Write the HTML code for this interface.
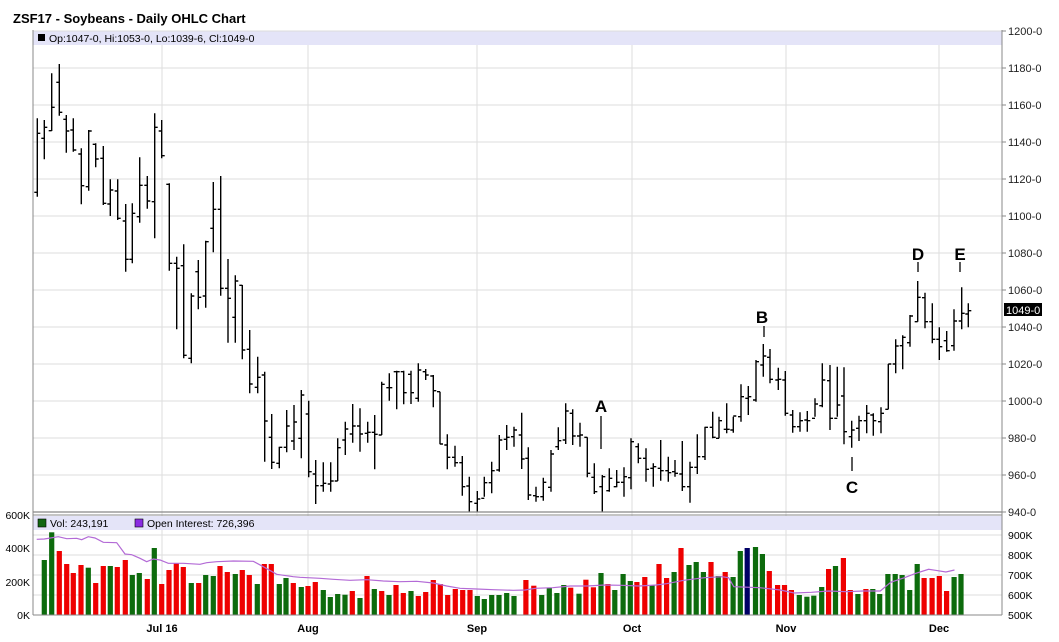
<!DOCTYPE html>
<html><head><meta charset="utf-8"><style>
body{margin:0;background:#fff;width:1059px;height:637px;overflow:hidden;font-family:"Liberation Sans",sans-serif}
svg text{font-family:"Liberation Sans",sans-serif}
</style></head><body>
<svg id="s" width="1059" height="637" xmlns="http://www.w3.org/2000/svg">
<rect width="1059" height="637" fill="#fff"/>
<text x="13" y="23" font-size="13" font-weight="bold" fill="#000">ZSF17 - Soybeans - Daily OHLC Chart</text>
<rect x="33" y="31" width="969" height="14" fill="#e4e4f8"/>
<rect x="38" y="34" width="7" height="7" fill="#000"/>
<text x="49" y="42" font-size="10.5" fill="#000">Op:1047-0, Hi:1053-0, Lo:1039-6, Cl:1049-0</text>
<g id="grid"></g>
<g id="bars"></g>
<g id="vol"></g>
<rect x="33" y="516" width="969" height="14" fill="#e4e4f8"/>
<rect x="38" y="519" width="8" height="8" fill="#116611" stroke="#000" stroke-width="0.6"/>
<text x="50" y="527" font-size="10.5">Vol: 243,191</text>
<rect x="135" y="519" width="8" height="8" fill="#8a2be2" stroke="#000" stroke-width="0.6"/>
<text x="147" y="527" font-size="10.5">Open Interest: 726,396</text>
<line x1="33" y1="30" x2="33" y2="615" stroke="#888" stroke-width="1"/>
<line x1="1002" y1="30" x2="1002" y2="615" stroke="#888" stroke-width="1"/>
<line x1="33" y1="512" x2="1002" y2="512" stroke="#888" stroke-width="1.2"/>
<line x1="33" y1="515" x2="1002" y2="515" stroke="#888" stroke-width="1"/>
<line x1="33" y1="615" x2="1002" y2="615" stroke="#888" stroke-width="1"/>
<g font-size="17" font-weight="bold" text-anchor="middle" fill="#000">
<text x="601" y="412">A</text><text x="762" y="323">B</text><text x="852" y="493">C</text><text x="918" y="260">D</text><text x="960" y="260">E</text>
</g>
<g stroke="#000" stroke-width="1.3">
<line x1="601" y1="416" x2="601" y2="449"/><line x1="764" y1="326" x2="764" y2="337"/><line x1="852" y1="457" x2="852" y2="471"/><line x1="918" y1="262" x2="918" y2="272"/><line x1="960" y1="262" x2="960" y2="272"/>
</g>
<rect x="1004" y="303" width="38" height="13" fill="#000"/>
<text x="1006" y="314" font-size="11" fill="#fff">1049-0</text>
</svg>
<script>
var NS="http://www.w3.org/2000/svg";
function el(p,t,a,txt){var e=document.createElementNS(NS,t);for(var k in a)e.setAttribute(k,a[k]);if(txt!==undefined)e.textContent=txt;document.getElementById(p).appendChild(e);return e;}
for(var k=0;k<=13;k++){var y=31+37*k;if(k<13)el("grid","line",{x1:33,x2:1002,y1:y,y2:y,stroke:"#ddd","stroke-width":1});
el("grid","line",{x1:1002,x2:1006,y1:y,y2:y,stroke:"#888"});
el("grid","text",{x:1008,y:y+4,"font-size":11,fill:"#222"},(1200-20*k)+"-0");}
var vx=[162,308,477,632,786,939],vl=["Jul 16","Aug","Sep","Oct","Nov","Dec"];
vx.forEach(function(x,i){el("grid","line",{x1:x,x2:x,y1:45,y2:615,stroke:"#ddd"});el("grid","text",{x:x,y:632,"font-size":11,"font-weight":"bold","text-anchor":"middle"},vl[i]);});
[535,555,575,595].forEach(function(y){el("grid","line",{x1:33,x2:1002,y1:y,y2:y,stroke:"#ddd"});});
[["600K",515],["400K",548],["200K",582],["0K",615]].forEach(function(a){el("grid","text",{x:30,y:a[1]+4,"font-size":10.5,"text-anchor":"end"},a[0]);});
[["900K",535],["800K",555],["700K",575],["600K",595],["500K",615]].forEach(function(a){el("grid","text",{x:1008,y:a[1]+4,"font-size":10.5},a[0]);});
var z1=[[22,205,440,427,250],[43,210,328,265,232],[65,70,243,242,172],[88,42,197,97,187],[109,195,308,208,243],[130,205,305,240,300],[154,295,463,312,407],[176,240,422,410,243],[197,280,352,283,327],[220,288,465,325,460],[241,388,498,462,420],[263,388,510,423,505],[287,462,665,513,628],[307,460,640,628,490],[329,322,518,500,406],[352,378,476,406,453],[374,190,565,455,232],[395,210,325,243,317],[418,400,662,403,640],[440,620,838,640,655],[461,583,925,647,916],[484,730,940,925,738],[505,630,778,665,742],[527,572,773,738,575],[550,396,607,535,478],[572,378,737,478,715],[594,627,878,715,745],[616,676,878,802,693],[637,705,928,706,900],[659,840,1030,898,1002],[683,920,1030,1012,982],[704,965,1235,975,1113],[725,1092,1257,1162,1237],[748,1190,1255,1240,1192],[770,1080,1207,1192,1128],[792,1065,1200,1173,1116],[814,1020,1225,1165,1035],[836,1052,1282,1092,1265],[857,1230,1362,1272,1307],[880,1237,1325,1307,1300],[902,1237,1325,1302,1293],[923,1165,1293,1293,1193],[946,1115,1215,1170,1137],[968,1062,1178,1152,1128],[990,1075,1205,1128,1152],[1013,1115,1178,1150,1147],[1034,1095,1258,1147,1153]];
var z2=[[35,95,255,255,103],[58,70,152,113,113],[80,62,178,65,65],[101,62,163,65,128],[123,62,162,73,128],[145,40,155,145,60],[167,57,90,65,75],[190,75,172,78,122],[210,125,283,125,282],[232,253,358,285,322],[255,287,350,322,338],[277,318,437,338,410],[298,380,485,408,455],[322,423,485,460,447],[343,380,440,445,398],[365,335,430,398,362],[388,255,365,360,270],[410,225,300,268,262],[432,230,290,260,240],[455,188,357,255,327],[475,292,450,325,435],[498,410,455,437,440],[520,383,452,440,397],[543,300,425,412,312],[565,232,300,290,272],[587,160,282,270,183],[608,178,285,190,258],[630,218,290,258,255],[652,262,382,262,370],[673,340,432,382,425],[697,375,485,410,380],[718,355,425,422,385],[740,360,412,410,397],[762,352,440,397,380],[783,265,418,383,275],[805,280,340,290,325],[828,295,395,325,358],[850,340,410,355,350],[872,270,392,355,362],[895,320,395,362,368],[915,330,380,365,370],[937,273,423,372,410],[960,335,458,410,352],[982,253,372,352,320],[1005,230,330,320,232],[1028,185,265,232,262]];
var z3=[[57,500,565,565,512],[80,460,550,538,538],[100,500,548,540,498],[123,403,515,500,440],[145,408,495,445,440],[168,330,455,450,335],[190,282,380,345,318],[210,297,400,322,388],[235,353,420,390,388],[256,363,497,390,490],[278,480,548,495,530],[300,487,545,530,512],[322,483,545,510,512],[345,445,500,505,462],[367,340,472,467,390],[390,345,540,392,505],[412,350,500,505,465],[432,352,583,438,545],[455,512,593,560,540],[477,497,573,535,512],[500,465,550,512,490],[520,490,557,495,512],[543,472,550,515,490],[565,342,478,478,342],[587,268,370,342,288],[608,256,358,287,262],[630,195,290,278,198],[653,93,215,215,142],[675,128,235,143,215],[697,160,280,215,268],[718,232,330,268,290],[740,243,305,272,302],[762,178,302,287,213],[785,112,238,213,190],[805,160,232,192,182]];
var d="";
function add(arr,ox,oy){arr.forEach(function(b){var x=(ox+b[0]/3).toFixed(1),h=oy+b[1]/3,l=oy+b[2]/3,o=oy+b[3]/3,c=oy+b[4]/3;
d+="M"+x+" "+h.toFixed(1)+"V"+l.toFixed(1)+"M"+(x-3)+" "+o.toFixed(1)+"H"+x+"M"+x+" "+c.toFixed(1)+"H"+(+x+3);});}
add(z1,30,50);add(z2,370,350);add(z3,700,250);
el("bars","path",{d:d,stroke:"#000","stroke-width":1.4,fill:"none"});
var v4=[[133,165,"G"],[155,82,"G"],[178,138,"R"],[200,177,"R"],[220,204,"R"],[243,180,"R"],[265,188,"G"],[287,234,"R"],[310,183,"R"],[331,183,"G"],[352,186,"R"],[376,165,"R"],[397,210,"G"],[418,204,"G"],[442,222,"R"],[463,129,"G"],[485,237,"R"],[507,195,"R"],[529,174,"R"],[550,186,"R"],[574,234,"G"],[596,234,"R"],[617,210,"G"],[640,213,"G"],[660,183,"R"],[682,201,"R"],[706,207,"G"],[727,195,"R"],[748,210,"R"],[772,237,"G"],[793,177,"R"],[814,177,"R"],[838,237,"G"],[858,219,"G"],[880,234,"R"],[904,246,"G"],[924,243,"R"],[946,231,"R"],[970,255,"G"],[991,276,"G"],[1013,267,"G"],[1035,269,"G"],[1057,258,"R"],[1080,279,"G"],[1101,213,"R"],[1123,252,"G"],[1145,258,"R"],[1167,270,"G"],[1188,240,"R"],[1210,264,"R"],[1233,258,"G"],[1255,273,"R"],[1277,261,"R"],[1300,225,"R"],[1321,237,"R"],[1343,270,"R"],[1366,252,"R"],[1388,255,"R"],[1410,255,"R"],[1432,273,"G"],[1453,282,"G"],[1475,270,"G"],[1497,270,"G"],[1520,264,"G"],[1542,273,"G"]];
var v5=[[5,228,"R"],[22,225,"R"],[45,242,"R"],[68,270,"G"],[90,248,"G"],[112,264,"G"],[132,240,"G"],[152,248,"R"],[176,266,"G"],[196,224,"R"],[218,247,"R"],[240,204,"G"],[260,237,"R"],[280,255,"G"],[304,207,"G"],[325,228,"G"],[344,231,"R"],[367,216,"R"],[388,240,"G"],[408,177,"R"],[430,219,"R"],[452,201,"G"],[472,129,"R"],[495,180,"G"],[516,171,"G"],[537,201,"G"],[559,171,"R"],[580,213,"G"],[600,201,"R"],[623,216,"G"],[644,138,"G"],[664,129,"N"],[688,126,"G"],[708,147,"G"],[728,198,"R"],[752,240,"R"],[772,240,"R"],[792,255,"R"],[815,270,"G"],[837,275,"G"],[857,272,"G"],[880,246,"G"],[900,192,"R"],[920,183,"G"],[943,159,"R"],[963,255,"R"],[985,267,"G"],[1008,252,"R"],[1028,252,"G"],[1048,267,"G"],[1072,207,"G"],[1093,207,"G"],[1113,210,"G"],[1135,255,"G"],[1157,177,"G"],[1177,219,"R"],[1200,219,"R"],[1221,213,"R"],[1242,258,"R"],[1264,216,"G"],[1284,207,"G"]];
var col={G:"#0d6b0d",R:"#ee0000",N:"#000066"};
function m5(x){return 520+(x-5)/2.9;}
function vb(x,y,c){el("vol","rect",{x:(x-2.6).toFixed(1),y:y.toFixed(1),width:5.2,height:(615-y).toFixed(1),fill:col[c]});}
v4.forEach(function(b){vb(b[0]/3,505+b[1]/3,b[2]);});
v5.slice(1).forEach(function(b){vb(m5(b[0]),505+b[1]/3,b[2]);});
var o4=[[110,103],[133,102],[175,95],[200,101],[230,100],[245,104],[265,95],[285,99],[310,112],[350,113],[375,147],[395,149],[420,160],[440,170],[460,162],[480,165],[505,175],[550,175],[600,178],[620,173],[650,170],[700,168],[760,169],[790,185],[830,208],[880,215],[900,217],[960,220],[1000,223],[1050,226],[1100,224],[1150,228],[1200,230],[1250,229],[1300,234],[1340,243],[1380,250],[1430,252],[1480,254],[1540,256]];
var o5=[[20,255],[50,250],[100,248],[150,243],[200,243],[250,240],[300,241],[350,243],[400,240],[430,236],[480,226],[540,218],[590,215],[610,218],[625,245],[700,248],[760,255],[800,264],[850,262],[900,258],[950,260],[1000,258],[1050,258],[1080,232],[1120,218],[1150,206],[1190,193],[1210,196],[1240,201],[1265,195]];
var pts=o4.map(function(p){return (p[0]/3).toFixed(1)+","+(505+p[1]/3).toFixed(1);}).concat(o5.map(function(p){return m5(p[0]).toFixed(1)+","+(505+p[1]/3).toFixed(1);}));
el("vol","polyline",{points:pts.join(" "),fill:"none",stroke:"#b36ad6","stroke-width":1.2});
</script>
</body></html>
